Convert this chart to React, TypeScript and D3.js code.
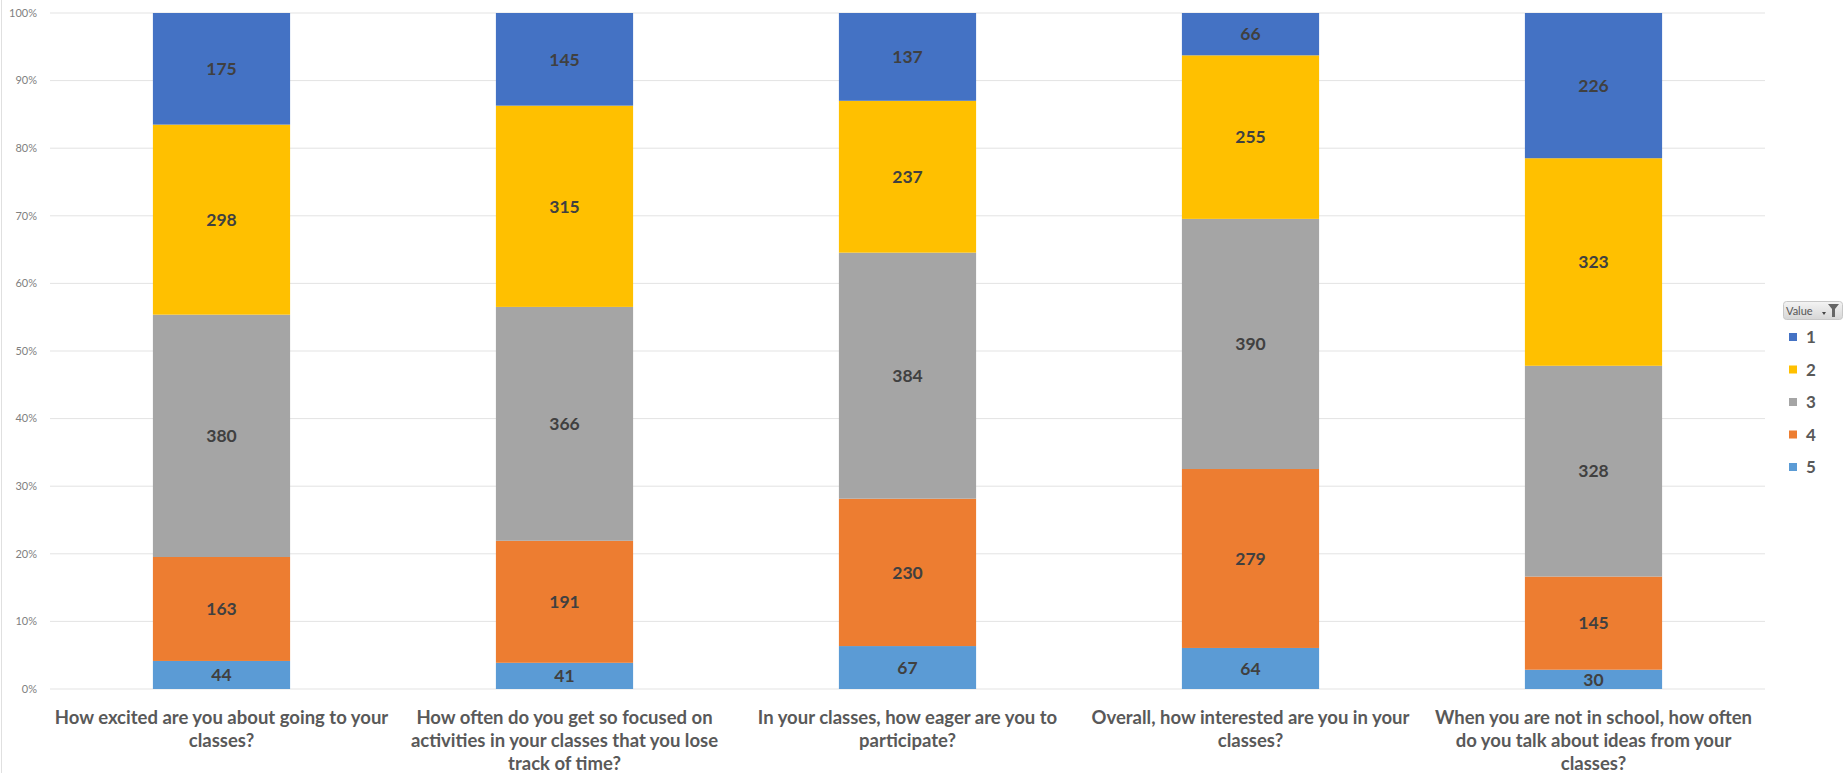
import React from "react";
import * as d3 from "d3";

const categories = [
  ["How excited are you about going to your", "classes?"],
  ["How often do you get so focused on", "activities in your classes that you lose", "track of time?"],
  ["In your classes, how eager are you to", "participate?"],
  ["Overall, how interested are you in your", "classes?"],
  ["When you are not in school, how often", "do you talk about ideas from your", "classes?"],
];
const seriesKeys = ["1", "2", "3", "4", "5"];
const v1 = [175, 145, 137, 66, 226];
const v2 = [298, 315, 237, 255, 323];
const v3 = [380, 366, 384, 390, 328];
const v4 = [163, 191, 230, 279, 145];
const v5 = [44, 41, 67, 64, 30];
const yTicks = [0, 0.1, 0.2, 0.3, 0.4, 0.5, 0.6, 0.7, 0.8, 0.9, 1];
const colors = ["#4472C4", "#FFC000", "#A5A5A5", "#ED7D31", "#5B9BD5"];

const W = 1845;
const H = 773;
const FONT = "Lato, 'Open Sans', sans-serif";

export default function App() {
  const left = 50, right = 1765, top = 13, bottom = 689;
  const rows = categories.map((c, i) => ({
    i,
    "1": v1[i], "2": v2[i], "3": v3[i], "4": v4[i], "5": v5[i],
  }));
  const stackOrder = ["5", "4", "3", "2", "1"];
  const stack = d3.stack<any>().keys(stackOrder).offset(d3.stackOffsetExpand);
  const layers = stack(rows);
  const x = d3.scaleBand<number>().domain(categories.map((_, i) => i)).range([left, right]).paddingInner(0.6).paddingOuter(0.3);
  const y = d3.scaleLinear().domain([0, 1]).range([bottom, top]);
  const fmt = d3.format(".0%");
  const legendY = d3.scalePoint<string>().domain(seriesKeys).range([337, 467]);

  return (
    <svg width={W} height={H} style={{ position: "absolute", left: 0, top: 0, background: "#fff" }}>
      <rect x={0} y={0} width={W} height={H} fill="#fff" />
      <line x1={1.5} x2={1.5} y1={0} y2={H} stroke="#e0e0e0" />
      {yTicks.map((t) => (
        <g key={t}>
          <line x1={left} x2={right} y1={y(t)} y2={y(t)} stroke="#e3e3e3" strokeWidth={1} />
          <text x={37} y={y(t)} dy="0.35em" textAnchor="end" fontFamily={FONT} fontSize={11} fill="#7f7f7f">{fmt(t)}</text>
        </g>
      ))}
      {layers.map((layer) => {
        const ci = seriesKeys.indexOf(layer.key);
        return (
          <g key={layer.key}>
            {layer.map((d, i) => (
              <rect key={i} x={x(i)} y={y(d[1])} width={x.bandwidth()} height={y(d[0]) - y(d[1])} fill={colors[ci]} />
            ))}
            {layer.map((d, i) => (
              <text key={"t" + i} x={(x(i) as number) + x.bandwidth() / 2} y={(y(d[0]) + y(d[1])) / 2} dy="0.36em"
                textAnchor="middle" fontFamily={FONT} fontWeight="bold" fontSize={17.5} fill="#404040">
                {(d.data as any)[layer.key]}
              </text>
            ))}
          </g>
        );
      })}
      {categories.map((lines, i) => (
        <text key={i} x={(x(i) as number) + x.bandwidth() / 2} textAnchor="middle" fontFamily={FONT} fontWeight="bold" fontSize={18.5} fill="#595959">
          {lines.map((l, j) => (
            <tspan key={j} x={(x(i) as number) + x.bandwidth() / 2} y={724 + j * 23}>{l}</tspan>
          ))}
        </text>
      ))}
      <defs>
        <linearGradient id="btn" x1="0" x2="0" y1="0" y2="1">
          <stop offset="0" stopColor="#f4f4f4" />
          <stop offset="1" stopColor="#d6d6d6" />
        </linearGradient>
      </defs>
      <rect x={1783.5} y={301.5} width={59} height={18} rx={3} fill="url(#btn)" stroke="#c8c8c8" />
      <text x={1786} y={314.5} fontFamily={FONT} fontSize={11} fill="#555">Value</text>
      <path d="M1822,312 l4,0 l-2,3 z" fill="#444" />
      <path d="M1828,304 l11,0 l-4,5 l0,8 l-3,0 l0,-8 z" fill="#666" />
      {seriesKeys.map((k, i) => (
        <g key={k}>
          <rect x={1789} y={legendY(k)! - 4} width={8} height={8} fill={colors[i]} />
          <text x={1806} y={legendY(k)!} dy="0.36em" fontFamily={FONT} fontWeight="bold" fontSize={17} fill="#595959">{k}</text>
        </g>
      ))}
    </svg>
  );
}
